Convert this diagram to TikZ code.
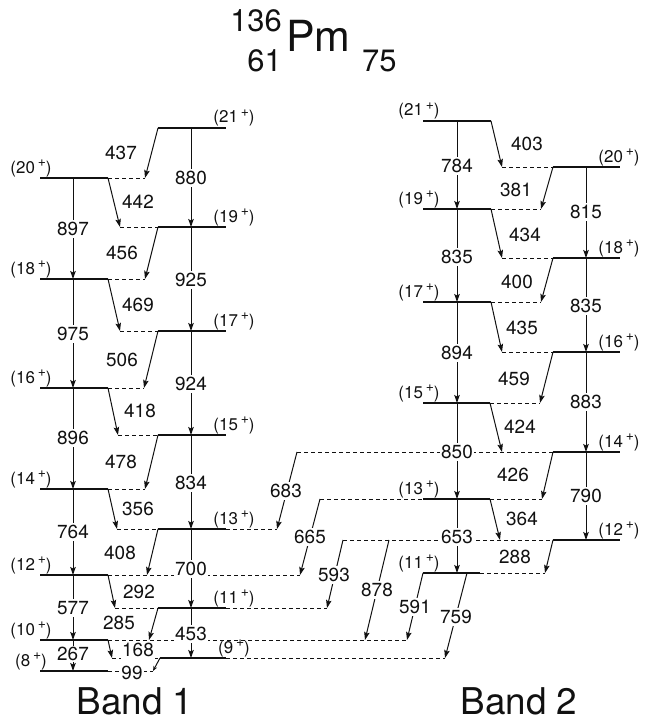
\documentclass[tikz,border=0pt]{standalone}
\usepackage{fontspec}
\setmainfont{TeX Gyre Heros}
\usepackage{tikz}
\usetikzlibrary{arrows.meta}
\definecolor{Ink}{HTML}{111111}
\tikzset{lvl/.style={draw=Ink,line width=1.2bp},ext/.style={draw=Ink,line width=.8bp,dash pattern=on 4bp off 3bp},tr/.style={draw=Ink,line width=1bp,-{Stealth[length=8bp,width=5.5bp,inset=1.5bp]}},en/.style={fill=white,text=Ink,inner xsep=1.5bp,inner ysep=2bp,font=\fontsize{19}{19}\selectfont},spin/.style={anchor=base,text=Ink,inner sep=0pt,font=\fontsize{17}{17}\selectfont},iso/.style={inner sep=0pt,text=Ink,font=\fontsize{31}{31}\selectfont},band/.style={anchor=base,text=Ink,inner sep=0pt,font=\fontsize{37}{37}\selectfont}}
\newcommand{\spn}[1]{(#1\,\raisebox{.4em}{\fontsize{14}{14}\selectfont+})}

\begin{document}
\begin{tikzpicture}[x=1bp,y=-1bp]
        \useasboundingbox(0,0)rectangle(647,723);
        \node[iso,anchor=base west,font=\fontsize{43}{43}\selectfont](pm)at(286,52){Pm};
        \node[iso,anchor=base east](mass)at(282,32){136};
        \node[iso,anchor=base east](prot)at(282,72){61};
        \node[iso,anchor=base west](neut)at(362,72){75};
        \foreach \s/\y/\t/\d in {20/178/145/145,18/279/145/145,16/388/144/144,14/489/145/145,12/575/147/300,10/640/149/407,8/671/153/153}{
          \coordinate(Ao\s)at(40,\y);\coordinate(Am\s)at(73,\y);\coordinate(Ai\s)at(108,\y);\coordinate(At\s)at(\t,\y);\coordinate(Ad\s)at(\d,\y);
          \draw[lvl](Ao\s)--(Ai\s);\draw[ext](Ai\s)--(Ad\s);
          \node[spin](Al\s)at(31,\y-5){\spn{\s}};}
        \foreach \s/\y/\t/\i/\d in {21/128/158/158/226,19/227/120/158/226,17/331/120/158/226,15/435/118/158/226,13/529/117/158/277,11/608/115/158/327,9/658/112/160/445}{
          \coordinate(At\s)at(\t,\y);\coordinate(Ai\s)at(\i,\y);\coordinate(Am\s)at(191,\y);\coordinate(Ao\s)at(226,\y);\coordinate(Ad\s)at(\d,\y);
          \draw[ext](At\s)--(Ai\s);\draw[lvl](Ai\s)--(Ao\s);\draw[ext](Ao\s)--(Ad\s);
          \node[spin](Al\s)at(234,\y-5){\spn{\s}};}
        \foreach \s/\y/\i/\t/\f in {21/121/491/491/423,19/209/491/541/423,17/302/491/541/423,15/403/490/540/423,13/499/490/542/320,11/573/480/545/423}{
          \coordinate(Bf\s)at(\f,\y);\coordinate(Bo\s)at(423,\y);\coordinate(Bm\s)at(457,\y);\coordinate(Bi\s)at(\i,\y);\coordinate(Bt\s)at(\t,\y);
          \draw[ext](Bf\s)--(Bo\s);\draw[lvl](Bo\s)--(Bi\s);\draw[ext](Bi\s)--(Bt\s);
          \node[spin](Bl\s)at(419,\y-5){\spn{\s}};}
        \foreach \s/\y/\t/\d in {20/167/502/502,18/258/502/502,16/352/502/502,14/452/502/297,12/540/500/343}{
          \coordinate(Bd\s)at(\d,\y);\coordinate(Bt\s)at(\t,\y);\coordinate(Bi\s)at(553,\y);\coordinate(Bm\s)at(586,\y);\coordinate(Bo\s)at(620,\y);
          \draw[ext](Bd\s)--(Bi\s);\draw[lvl](Bi\s)--(Bo\s);
          \node[spin](Bl\s)at(619,\y-5){\spn{\s}};}
        \coordinate(Bx12)at(389,540);\coordinate(Bx11)at(467,573);\coordinate(Ax10)at(365,640);
        \foreach \u/\l/\e/\y in {20/18/897/229,18/16/975/334,16/14/896/438,14/12/764/532,12/10/577/608}{\draw[tr](Am\u)--(Am\l);\node[en](Av\u)at(73,\y){\e};}
        \draw[tr](Am10)--(Am8);\node[en,inner ysep=1bp](Av10)at(73,654){267};
        \foreach \u/\l/\e/\y in {21/19/880/178,19/17/925/280,17/15/924/384,15/13/834/483,13/11/700/569,11/9/453/634}{\draw[tr](Am\u)--(Am\l);\node[en](Av\u)at(191,\y){\e};}
        \foreach \u/\l/\e/\x/\y in {21/20/437/121/153,19/18/456/122/253,17/16/506/122/360,15/14/478/121/462,13/12/408/120/553,11/10/285/119/623,20/19/442/138/202,18/17/469/138/305,16/15/418/140/411,14/13/356/138/509,12/11/292/139/592,10/9/168/138/650}{\draw[tr](Ai\u)--(At\l);\node[en](Ak\u)at(\x,\y){\e};}
        \draw[tr,-{Stealth[open,length=5bp,width=4bp]}](Ai9)--(At8);\node[en](Ak9)at(132,673){99};
        \foreach \u/\l/\e/\y in {21/19/784/166,19/17/835/257,17/15/894/353,15/13/850/452,13/11/653/537}{\draw[tr](Bm\u)--(Bm\l);\node[en](Bv\u)at(457,\y){\e};}
        \foreach \u/\l/\e/\y in {20/18/815/212,18/16/835/306,16/14/883/402,14/12/790/496}{\draw[tr](Bm\u)--(Bm\l);\node[en](Bv\u)at(586,\y){\e};}
        \foreach \u/\l/\e/\x/\y in {21/20/403/527/144,19/18/434/525/235,17/16/435/522/328,15/14/424/520/427,13/12/364/522/519,20/19/381/516/190,18/17/400/517/282,16/15/459/514/379,14/13/426/513/475,12/11/288/515/557}{\draw[tr](Bi\u)--(Bt\l);\node[en](Bk\u)at(\x,\y){\e};}
        \foreach \a/\b/\e/\x/\y in {Bd14/Ad13/683/286/491,Bf13/Ad12/665/310/537,Bd12/Ad11/593/334/575,Bx12/Ax10/878/377/590,Bo11/Ad10/591/415/607,Bx11/Ad9/759/456/617}{\draw[tr](\a)--(\b);\node[en](Xk\e)at(\x,\y){\e};}
        \node[band](b1)at(135,714){Band 1};
        \node[band](b2)at(519,714){Band 2};
      \end{tikzpicture}
\end{document}
